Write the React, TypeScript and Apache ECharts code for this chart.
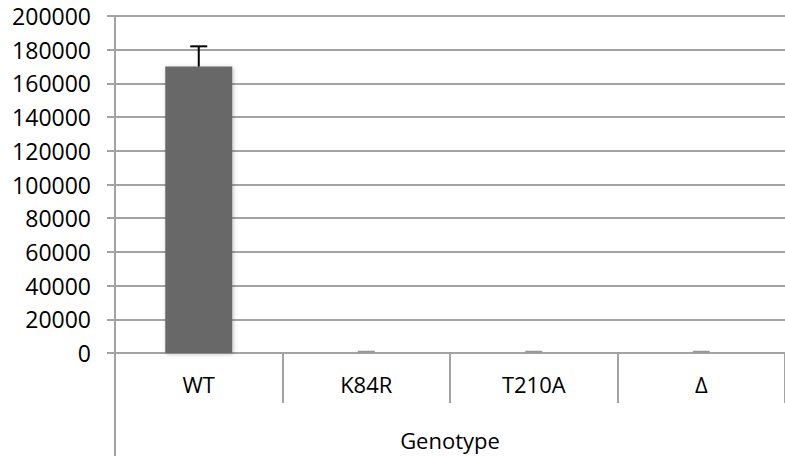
import React, { useEffect, useRef } from "react";
import * as echarts from "echarts";

const categories = ["WT", "K84R", "T210A", "Δ"];
const values = [170000, 50, 50, 50];
const errors = [12000, 700, 700, 700];
const yTicks = { min: 0, max: 200000, interval: 20000 };
const axisTitle = "Genotype";

const FONT = "'Open Sans', sans-serif";
const GRID = "#a3a3a3";

export default function App() {
  const ref = useRef<HTMLDivElement>(null);
  useEffect(() => {
    document.body.style.margin = "0";
    const chart = echarts.init(ref.current!, null, { renderer: "svg" });
    chart.setOption({
      animation: false,
      grid: { left: 115, right: 0, top: 16, bottom: 103 },
      xAxis: {
        type: "category",
        data: categories,
        axisLine: { show: true, lineStyle: { color: GRID, width: 2 } },
        axisTick: { show: true, length: 50, interval: 0, lineStyle: { color: GRID, width: 2 } },
        axisLabel: { color: "#000", fontFamily: FONT, fontSize: 22, margin: 20 },
        name: axisTitle,
        nameLocation: "middle",
        nameGap: 76,
        nameTextStyle: { color: "#000", fontFamily: FONT, fontSize: 22 },
      },
      yAxis: {
        type: "value",
        min: yTicks.min,
        max: yTicks.max,
        interval: yTicks.interval,
        axisLine: { show: true, lineStyle: { color: GRID, width: 2 } },
        axisTick: { show: true, length: 8, lineStyle: { color: GRID, width: 2 } },
        splitLine: { show: true, lineStyle: { color: GRID, width: 2 } },
        axisLabel: {
          color: "#000",
          fontFamily: FONT,
          fontSize: 23,
          margin: 24,
          formatter: (v: number) => String(v),
        },
      },
      graphic: [
        {
          type: "line",
          shape: { x1: 115, y1: 353, x2: 115, y2: 456 },
          style: { stroke: GRID, lineWidth: 2 },
        },
      ],
      series: [
        {
          type: "bar",
          data: values,
          barWidth: "40%",
          itemStyle: {
            color: "#686868",
            shadowColor: "rgba(0,0,0,0.25)",
            shadowBlur: 4,
            shadowOffsetX: 1,
            shadowOffsetY: 1,
          },
          z: 2,
        },
        {
          type: "custom",
          data: values.map((v, i) => [i, v, v + errors[i]]),
          z: 3,
          renderItem: (params: any, api: any) => {
            const x = api.value(0);
            const base = api.coord([x, api.value(1)]);
            const top = api.coord([x, api.value(2)]);
            const hw = 8.5;
            const small = params.dataIndex > 0;
            const col = small ? "#999" : "#000";
            return {
              type: "group",
              children: [
                {
                  type: "line",
                  shape: { x1: base[0], y1: base[1], x2: top[0], y2: top[1] },
                  style: { stroke: col, lineWidth: 2 },
                },
                {
                  type: "line",
                  shape: { x1: top[0] - hw, y1: top[1], x2: top[0] + hw, y2: top[1] },
                  style: { stroke: col, lineWidth: 2 },
                },
              ],
            };
          },
        },
      ],
    });
    return () => chart.dispose();
  }, []);
  return <div ref={ref} style={{ width: 785, height: 456 }} />;
}
